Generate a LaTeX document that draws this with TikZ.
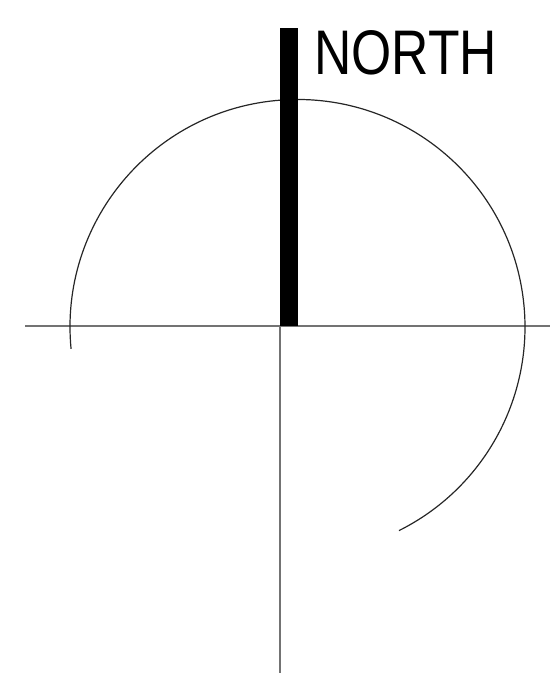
\documentclass[tikz,border=0pt]{standalone}
\usepackage{fontspec}
\setmainfont{Liberation Sans}
\usetikzlibrary{positioning}

\begin{document}
\begin{tikzpicture}[x=1pt, y=1pt,
		axis/.style={draw=black!55, line width=1.4pt},
		needle/.style={fill=black},
		dial/.style={draw=black!85, line width=1.2pt},
		label/.style={inner sep=0pt, anchor=base west, font=\fontsize{63}{63}\selectfont}]
		
		\useasboundingbox (0,0) rectangle (550,690);
		
		\coordinate (origin) at (280,364);
		\coordinate (west) at (25,364);
		\coordinate (east) at (550,364);
		\coordinate (south) at (280,17);
		\coordinate (hub) at (297.5,363);
		
		\draw[axis] (west) -- (east);
		\draw[axis] (origin) -- (south);
		
		\draw[dial] ([shift={(185.5:227.5pt)}]hub) arc[start angle=185.5, end angle=-63.5, radius=227.5pt];
		
		\fill[needle] (280,662) rectangle (298,364);
		
		\node[label] (north) at (314,615) {\scalebox{0.82}[1]{NORTH}};
	\end{tikzpicture}
\end{document}
